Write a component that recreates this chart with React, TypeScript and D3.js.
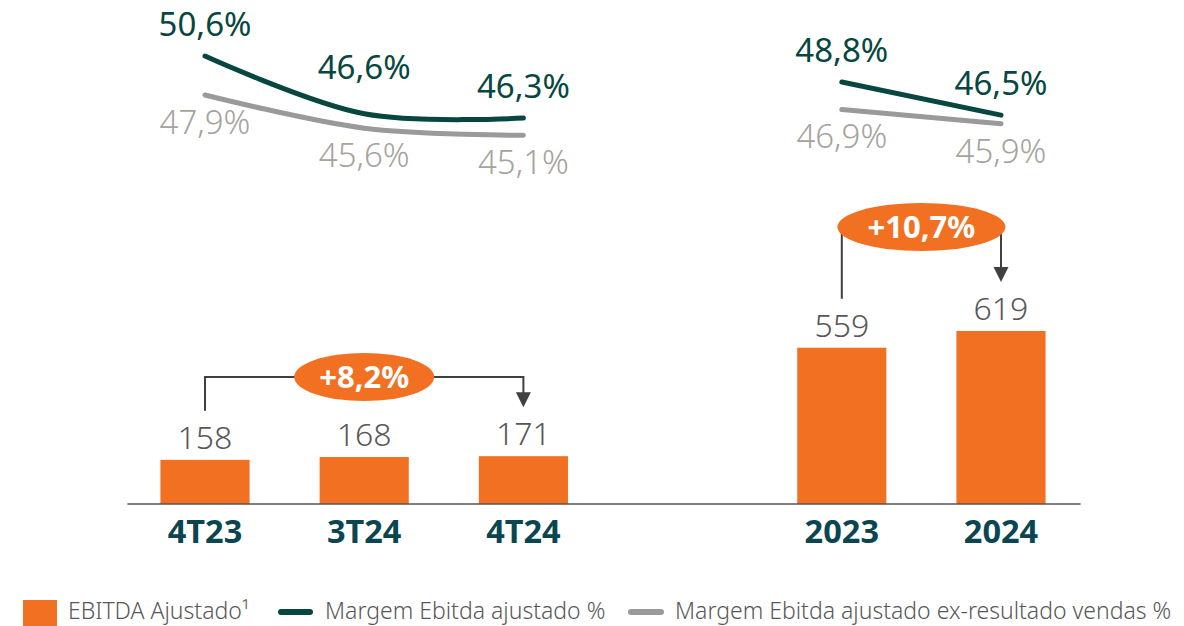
import React from "react";
import * as d3 from "d3";

const quarterCats = ["4T23", "3T24", "4T24"];
const yearCats = ["2023", "2024"];
const quarterEbitda = [158, 168, 171];
const yearEbitda = [559, 619];
const quarterMargin = [50.6, 46.6, 46.3];
const quarterMarginEx = [47.9, 45.6, 45.1];
const yearMargin = [48.8, 46.5];
const yearMarginEx = [46.9, 45.9];
const growthLabels = ["+8,2%", "+10,7%"];
const legendLabels = [
  "EBITDA Ajustado¹",
  "Margem Ebitda ajustado %",
  "Margem Ebitda ajustado ex-resultado vendas %",
];

const W = 1184;
const H = 626;
const ORANGE = "#F27022";
const TEAL = "#07473F";
const CAT = "#0B4650";
const GREY_LINE = "#9A9A9A";
const GREY_TEXT = "#A6A39D";
const VALUE_TEXT = "#575757";
const FONT = "'Noto Sans', 'Open Sans', sans-serif";

const fmtPct = (v: number) => v.toFixed(1).replace(".", ",") + "%";

export default function App() {
  const slots = [...quarterCats, " ", ...yearCats];
  const x = d3
    .scaleBand<string>()
    .domain(slots)
    .range([125.4, 1080.6])
    .paddingInner(0.44)
    .paddingOuter(0.22);
  const cx = (c: string) => (x(c) as number) + x.bandwidth() / 2;

  const yBar = d3.scaleLinear().domain([0, 700]).range([504, 308.3]);
  const yLine = d3.scaleLinear().domain([45, 51]).range([136.8, 50.3]);

  const line = d3
    .line<[number, number]>()
    .x((d) => d[0])
    .y((d) => yLine(d[1]))
    .curve(d3.curveCatmullRom.alpha(0.5));

  const bars = [
    ...quarterCats.map((c, i) => ({ c, v: quarterEbitda[i] })),
    ...yearCats.map((c, i) => ({ c, v: yearEbitda[i] })),
  ];

  const groups = [
    { cats: quarterCats, m: quarterMargin, mx: quarterMarginEx },
    { cats: yearCats, m: yearMargin, mx: yearMarginEx },
  ];

  const brackets = [
    {
      from: quarterCats[0],
      to: quarterCats[2],
      v0: quarterEbitda[0],
      v1: quarterEbitda[2],
      level: 377,
      rx: 70,
      label: growthLabels[0],
    },
    {
      from: yearCats[0],
      to: yearCats[1],
      v0: yearEbitda[0],
      v1: yearEbitda[1],
      level: 227,
      rx: 84,
      label: growthLabels[1],
    },
  ];

  return (
    <svg
      width={W}
      height={H}
      style={{ position: "absolute", left: 0, top: 0, background: "#fff" }}
      fontFamily={FONT}
    >
      {/* bars */}
      {bars.map((b) => (
        <g key={b.c}>
          <rect
            x={x(b.c)}
            y={yBar(b.v)}
            width={x.bandwidth()}
            height={yBar(0) - yBar(b.v)}
            fill={ORANGE}
          />
          <text
            x={cx(b.c)}
            y={yBar(b.v) - 11}
            textAnchor="middle"
            fontSize={32}
            fontWeight={300}
            fill={VALUE_TEXT}
          >
            {b.v}
          </text>
          <text
            x={cx(b.c)}
            y={543}
            textAnchor="middle"
            fontSize={32.5}
            fontWeight={700}
            fill={CAT}
          >
            {b.c}
          </text>
        </g>
      ))}

      {/* axis line */}
      <line
        x1={x.range()[0] + 2}
        x2={x.range()[1]}
        y1={yBar(0)}
        y2={yBar(0)}
        stroke="#555"
        strokeWidth={1.6}
      />

      {/* lines */}
      {groups.map((g, gi) => (
        <g key={gi}>
          <path
            d={line(g.cats.map((c, i) => [cx(c), g.mx[i]])) || ""}
            fill="none"
            stroke={GREY_LINE}
            strokeWidth={5}
            strokeLinecap="round"
          />
          <path
            d={line(g.cats.map((c, i) => [cx(c), g.m[i]])) || ""}
            fill="none"
            stroke={TEAL}
            strokeWidth={5}
            strokeLinecap="round"
          />
          {g.cats.map((c, i) => (
            <g key={c}>
              <text
                x={cx(c)}
                y={yLine(g.m[i]) - (gi === 0 && i === 1 ? 35 : 20)}
                textAnchor="middle"
                fontSize={33}
                fontWeight={400}
                fill={TEAL}
              >
                {fmtPct(g.m[i])}
              </text>
              <text
                x={cx(c)}
                y={yLine(g.mx[i]) + 39}
                textAnchor="middle"
                fontSize={33}
                fontWeight={300}
                fill={GREY_TEXT}
              >
                {fmtPct(g.mx[i])}
              </text>
            </g>
          ))}
        </g>
      ))}

      {/* growth brackets */}
      {brackets.map((br, i) => {
        const x0 = cx(br.from);
        const x1 = cx(br.to);
        const yStart = yBar(br.v0) - 49;
        const yTip = yBar(br.v1) - 49;
        const ah = 15;
        const mid = (x0 + x1) / 2;
        return (
          <g key={i}>
            <path
              d={`M${x0},${yStart}V${br.level}H${x1}V${yTip - ah + 1}`}
              fill="none"
              stroke="#404040"
              strokeWidth={2}
            />
            <path
              d={`M${x1 - 7.5},${yTip - ah}L${x1 + 7.5},${yTip - ah}L${x1},${yTip}Z`}
              fill="#404040"
            />
            <ellipse cx={mid} cy={br.level} rx={br.rx} ry={24} fill={ORANGE} />
            <text
              x={mid}
              y={br.level + 10.5}
              textAnchor="middle"
              fontSize={31}
              fontWeight={700}
              fill="#fff"
            >
              {br.label}
            </text>
          </g>
        );
      })}

      {/* legend */}
      <g fontSize={23} fontWeight={300} fill={VALUE_TEXT}>
        <rect x={23} y={600} width={34} height={34} fill={ORANGE} />
        <text x={68} y={619}>
          {legendLabels[0]}
        </text>
        <line
          x1={281}
          x2={310}
          y1={612}
          y2={612}
          stroke={TEAL}
          strokeWidth={6}
          strokeLinecap="round"
        />
        <text x={325} y={619}>
          {legendLabels[1]}
        </text>
        <line
          x1={631}
          x2={661}
          y1={612}
          y2={612}
          stroke={GREY_LINE}
          strokeWidth={6}
          strokeLinecap="round"
        />
        <text x={675} y={619}>
          {legendLabels[2]}
        </text>
      </g>
    </svg>
  );
}
